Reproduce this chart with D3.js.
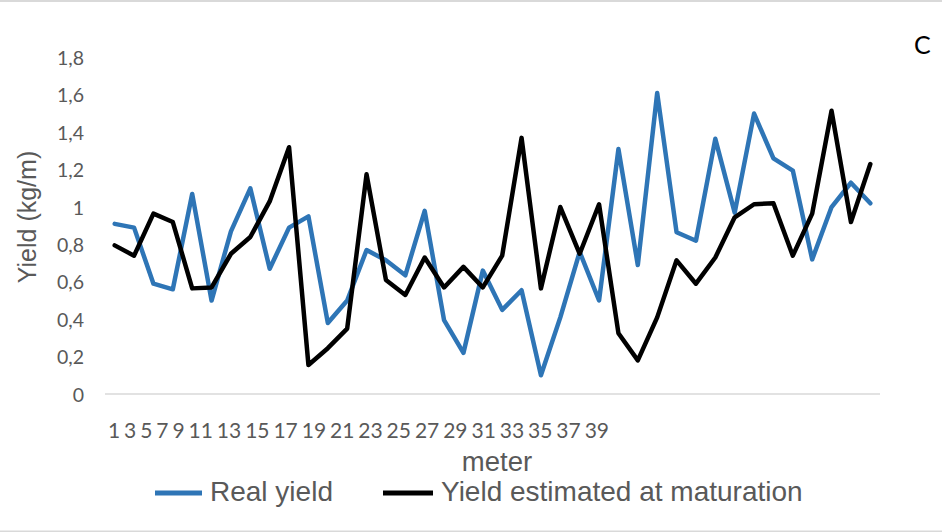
<!DOCTYPE html>
<html>
<head>
<meta charset="utf-8">
<script src="https://cdn.jsdelivr.net/npm/d3@7"></script>
<style>
  html, body { margin: 0; padding: 0; background: #ffffff; }
  svg { display: block; }
</style>
</head>
<body>
<svg id="chart" width="942" height="532"></svg>
<script>
// Meter positions along the row (1..40)
const meters = d3.range(1, 41);

// Category labels printed under the axis
const meterLabels = [1, 3, 5, 7, 9, 11, 13, 15, 17, 19, 21, 23, 25, 27, 29, 31, 33, 35, 37, 39];

// Measured yield per meter (kg/m)
const realYield = [
  0.91, 0.89, 0.59, 0.56, 1.07, 0.50, 0.87, 1.10, 0.67, 0.89,
  0.95, 0.38, 0.50, 0.77, 0.715, 0.635, 0.98, 0.395, 0.22, 0.66,
  0.45, 0.555, 0.10, 0.41, 0.76, 0.50, 1.31, 0.69, 1.61, 0.865,
  0.82, 1.365, 0.97, 1.50, 1.26, 1.195, 0.72, 1.00, 1.13, 1.02
];

// Yield estimated at maturation per meter (kg/m)
const estimatedYield = [
  0.795, 0.74, 0.965, 0.92, 0.565, 0.57, 0.75, 0.84, 1.03, 1.32,
  0.155, 0.245, 0.35, 1.175, 0.61, 0.53, 0.73, 0.57, 0.68, 0.57,
  0.74, 1.37, 0.565, 1.0, 0.75, 1.015, 0.325, 0.18, 0.41, 0.715,
  0.59, 0.73, 0.945, 1.015, 1.02, 0.74, 0.965, 1.515, 0.92, 1.23
];

// Y axis ticks
const yTicks = [0, 0.2, 0.4, 0.6, 0.8, 1, 1.2, 1.4, 1.6, 1.8];

const seriesList = [
  { name: "Real yield", values: realYield, color: "#2e75b6" },
  { name: "Yield estimated at maturation", values: estimatedYield, color: "#000000" }
];

const svg = d3.select("#chart");
const W = 942, H = 532;
const plot = { left: 105, right: 880, top: 57.5, bottom: 394 };

const x = d3.scalePoint().domain(meters).range([plot.left, plot.right]).padding(0.5);
const y = d3.scaleLinear().domain([0, 1.8]).range([plot.bottom, plot.top]);

const tickFont = "Lato, 'Open Sans', sans-serif";
const titleFont = "'Liberation Sans', Arial, sans-serif";
const grey = "#595959";

// Outer chart frame
svg.append("rect")
  .attr("x", -2).attr("y", 1)
  .attr("width", W + 4).attr("height", H - 1.5)
  .attr("fill", "none")
  .attr("stroke", "#d9d9d9")
  .attr("stroke-width", 2);

// Horizontal category axis line
const xAxis = d3.axisBottom(x).tickSize(0).tickFormat("");
svg.append("g")
  .attr("transform", `translate(0,${plot.bottom})`)
  .call(xAxis)
  .call(g => g.select(".domain")
    .attr("d", `M${plot.left},0H${plot.right}`)
    .attr("stroke", "#d9d9d9")
    .attr("stroke-width", 1.5));

// Value axis labels (no axis line)
const yAxis = d3.axisLeft(y).tickValues(yTicks).tickSize(0).tickPadding(0)
  .tickFormat(d => d3.format("~g")(d).replace(".", ","));
svg.append("g")
  .attr("transform", `translate(${plot.left - 21},0)`)
  .call(yAxis)
  .call(g => g.select(".domain").remove())
  .call(g => g.selectAll("text")
    .attr("font-family", tickFont)
    .attr("font-size", 19.5)
    .attr("fill", grey)
    .attr("dy", "0.36em"));

// Meter labels: a single run of text under the axis
const labelText = svg.append("text")
  .attr("x", 108)
  .attr("y", 438)
  .attr("font-family", tickFont)
  .attr("font-size", 21)
  .attr("fill", grey)
  .style("white-space", "pre")
  .text(meterLabels.join(" "));
const labelWidth = labelText.node().getComputedTextLength();
const targetWidth = 501;
labelText.attr("word-spacing", (targetWidth - labelWidth) / (meterLabels.length - 1));

// Series lines
const line = d3.line()
  .x((d, i) => x(meters[i]))
  .y(d => y(d));

svg.append("g")
  .selectAll("path")
  .data(seriesList)
  .join("path")
  .attr("d", s => line(s.values))
  .attr("fill", "none")
  .attr("stroke", s => s.color)
  .attr("stroke-width", 4.5)
  .attr("stroke-linejoin", "round")
  .attr("stroke-linecap", "round");

// Axis titles
svg.append("text")
  .attr("transform", "translate(36,217) rotate(-90)")
  .attr("text-anchor", "middle")
  .attr("font-family", titleFont)
  .attr("font-size", 25)
  .attr("fill", grey)
  .text("Yield (kg/m)");

svg.append("text")
  .attr("x", 497)
  .attr("y", 471)
  .attr("text-anchor", "middle")
  .attr("font-family", titleFont)
  .attr("font-size", 27.5)
  .attr("fill", grey)
  .text("meter");

// Legend
const legendItems = [
  { series: seriesList[0], x0: 155, x1: 202, tx: 210 },
  { series: seriesList[1], x0: 383, x1: 433, tx: 441 }
];
const legend = svg.append("g");
legendItems.forEach(it => {
  legend.append("line")
    .attr("x1", it.x0).attr("x2", it.x1)
    .attr("y1", 493).attr("y2", 493)
    .attr("stroke", it.series.color)
    .attr("stroke-width", 5);
  legend.append("text")
    .attr("x", it.tx)
    .attr("y", 501)
    .attr("font-family", titleFont)
    .attr("font-size", 28)
    .attr("fill", grey)
    .text(it.series.name);
});

// Panel letter
svg.append("text")
  .attr("x", 914)
  .attr("y", 54)
  .attr("font-family", tickFont)
  .attr("font-size", 25)
  .attr("fill", "#000000")
  .text("C");
</script>
</body>
</html>
